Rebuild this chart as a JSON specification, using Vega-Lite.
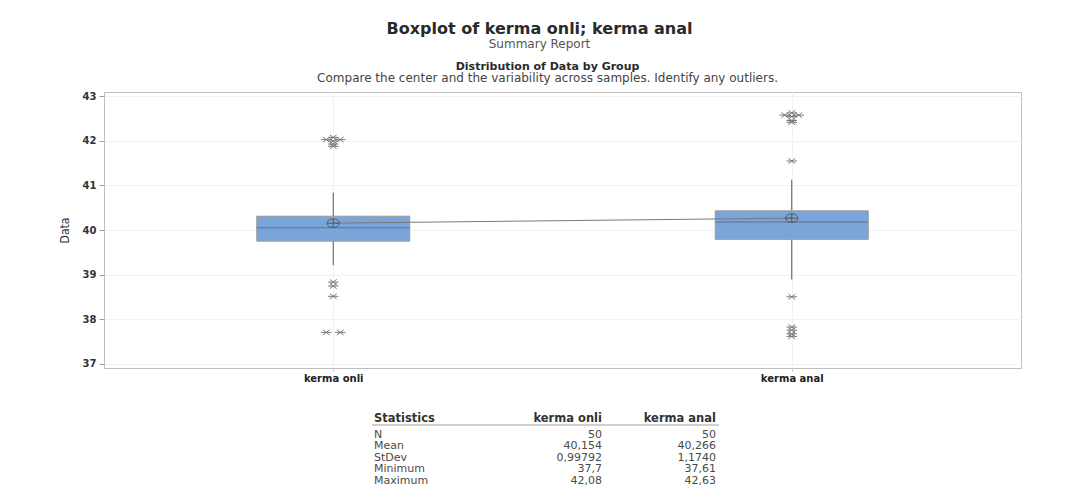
{
  "$schema": "https://vega.github.io/schema/vega-lite/v6.json",
  "background": "white",
  "padding": {"left": 57, "top": 20, "right": 40, "bottom": 10},
  "title": {
    "text": "Boxplot of kerma onli; kerma anal",
    "subtitle": "Summary Report",
    "anchor": "middle",
    "font": "DejaVu Sans",
    "fontSize": 16,
    "fontWeight": "bold",
    "color": "#2a2a2a",
    "subtitleFont": "DejaVu Sans",
    "subtitleFontSize": 12,
    "subtitleColor": "#555555",
    "subtitlePadding": 2,
    "offset": 11
  },
  "datasets": {
    "boxes": [
      {"group": "kerma onli", "lower": 39.21, "q1": 39.75, "median": 40.05, "q3": 40.31, "upper": 40.84, "mean": 40.154},
      {"group": "kerma anal", "lower": 38.89, "q1": 39.79, "median": 40.18, "q3": 40.43, "upper": 41.13, "mean": 40.266}
    ],
    "outliers": [
      {"group": "kerma onli", "value": 42.08, "dup": 0},
      {"group": "kerma onli", "value": 42.03, "dup": -1},
      {"group": "kerma onli", "value": 42.03, "dup": 1},
      {"group": "kerma onli", "value": 42.0, "dup": 0},
      {"group": "kerma onli", "value": 41.93, "dup": 0},
      {"group": "kerma onli", "value": 41.88, "dup": 0},
      {"group": "kerma onli", "value": 38.83, "dup": 0},
      {"group": "kerma onli", "value": 38.74, "dup": 0},
      {"group": "kerma onli", "value": 38.51, "dup": 0},
      {"group": "kerma onli", "value": 37.7, "dup": -1},
      {"group": "kerma onli", "value": 37.7, "dup": 1},
      {"group": "kerma anal", "value": 42.63, "dup": 0},
      {"group": "kerma anal", "value": 42.58, "dup": -1},
      {"group": "kerma anal", "value": 42.58, "dup": 1},
      {"group": "kerma anal", "value": 42.55, "dup": 0},
      {"group": "kerma anal", "value": 42.46, "dup": 0},
      {"group": "kerma anal", "value": 42.42, "dup": 0},
      {"group": "kerma anal", "value": 41.55, "dup": 0},
      {"group": "kerma anal", "value": 38.5, "dup": 0},
      {"group": "kerma anal", "value": 37.82, "dup": 0},
      {"group": "kerma anal", "value": 37.75, "dup": 0},
      {"group": "kerma anal", "value": 37.67, "dup": 0},
      {"group": "kerma anal", "value": 37.61, "dup": 0}
    ],
    "stats": [
      {"row": "Statistics", "col": "Statistics", "text": "Statistics"},
      {"row": "Statistics", "col": "kerma onli", "text": "kerma onli"},
      {"row": "Statistics", "col": "kerma anal", "text": "kerma anal"},
      {"row": "N", "col": "Statistics", "text": "N"},
      {"row": "N", "col": "kerma onli", "text": "50"},
      {"row": "N", "col": "kerma anal", "text": "50"},
      {"row": "Mean", "col": "Statistics", "text": "Mean"},
      {"row": "Mean", "col": "kerma onli", "text": "40,154"},
      {"row": "Mean", "col": "kerma anal", "text": "40,266"},
      {"row": "StDev", "col": "Statistics", "text": "StDev"},
      {"row": "StDev", "col": "kerma onli", "text": "0,99792"},
      {"row": "StDev", "col": "kerma anal", "text": "1,1740"},
      {"row": "Minimum", "col": "Statistics", "text": "Minimum"},
      {"row": "Minimum", "col": "kerma onli", "text": "37,7"},
      {"row": "Minimum", "col": "kerma anal", "text": "37,61"},
      {"row": "Maximum", "col": "Statistics", "text": "Maximum"},
      {"row": "Maximum", "col": "kerma onli", "text": "42,08"},
      {"row": "Maximum", "col": "kerma anal", "text": "42,63"}
    ]
  },
  "spacing": 26,
  "vconcat": [
    {
      "width": 917,
      "height": 276,
      "title": {
        "text": "Distribution of Data by Group",
        "subtitle": "Compare the center and the variability across samples. Identify any outliers.",
        "anchor": "middle",
        "frame": "bounds",
        "font": "DejaVu Sans",
        "fontSize": 11,
        "fontWeight": "bold",
        "color": "#2a2a2a",
        "subtitleFont": "DejaVu Sans",
        "subtitleFontSize": 12,
        "subtitleColor": "#444444",
        "subtitlePadding": 1,
        "offset": 7,
        "dx": 8
      },
      "view": {"stroke": "#bdbdbd", "strokeWidth": 1},
      "encoding": {
        "x": {
          "field": "group",
          "type": "nominal",
          "sort": ["kerma onli", "kerma anal"],
          "scale": {"type": "point", "padding": 0.5, "domain": ["kerma onli", "kerma anal"]},
          "axis": {
            "title": null,
            "labelAngle": 0,
            "labelFont": "DejaVu Sans",
            "labelFontSize": 10,
            "labelFontWeight": "bold",
            "labelColor": "#222222",
            "labelPadding": 2,
            "domain": false,
            "ticks": true,
            "tickSize": 3,
            "tickColor": "#c8c8c8",
            "grid": true,
            "gridColor": "#f1f1f1"
          }
        }
      },
      "layer": [
        {
          "data": {"name": "boxes"},
          "mark": {"type": "rule", "color": "#555555", "strokeWidth": 1},
          "encoding": {
            "y": {
              "field": "lower",
              "type": "quantitative",
              "scale": {"domain": [36.9, 43.1], "nice": false, "zero": false},
              "axis": {
                "title": "Data",
                "titleFont": "'Liberation Sans Narrow', 'DejaVu Sans Condensed', 'Roboto', sans-serif",
                "titleFontSize": 12,
                "titleFontWeight": "normal",
                "titleColor": "#333333",
                "titlePadding": 11,
                "values": [37, 38, 39, 40, 41, 42, 43],
                "labelFont": "DejaVu Sans",
                "labelFontSize": 10,
                "labelFontWeight": "bold",
                "labelColor": "#333333",
                "labelPadding": 3,
                "domain": false,
                "tickSize": 5,
                "tickColor": "#a0a0a0",
                "grid": true,
                "gridColor": "#f1f1f1"
              }
            },
            "y2": {"field": "upper"}
          }
        },
        {
          "data": {"name": "boxes"},
          "mark": {"type": "bar", "size": 153, "fill": "#7ba5d9", "stroke": "#9a9a9a", "strokeWidth": 1},
          "encoding": {
            "y": {"field": "q1", "type": "quantitative"},
            "y2": {"field": "q3"}
          }
        },
        {
          "data": {"name": "boxes"},
          "mark": {"type": "tick", "size": 153, "thickness": 1, "color": "#5d7393", "opacity": 1},
          "encoding": {
            "y": {"field": "median", "type": "quantitative"}
          }
        },
        {
          "data": {"name": "boxes"},
          "mark": {"type": "line", "color": "#7a7a7a", "strokeWidth": 1},
          "encoding": {
            "y": {"field": "mean", "type": "quantitative"}
          }
        },
        {
          "data": {"name": "boxes"},
          "mark": {
            "type": "point",
            "shape": "M-1,0A1,0.7 0 1,1 1,0A1,0.7 0 1,1 -1,0ZM-1,0L1,0M0,-0.7L0,0.7",
            "size": 150,
            "filled": false,
            "stroke": "#555555",
            "strokeWidth": 1,
            "opacity": 1
          },
          "encoding": {
            "y": {"field": "mean", "type": "quantitative"}
          }
        },
        {
          "data": {"name": "outliers"},
          "mark": {
            "type": "point",
            "shape": "M-1,0L1,0M-0.65,-0.5L0.65,0.5M-0.65,0.5L0.65,-0.5",
            "size": 110,
            "filled": false,
            "stroke": "#6e6e6e",
            "strokeWidth": 1,
            "opacity": 0.9
          },
          "encoding": {
            "y": {"field": "value", "type": "quantitative"},
            "xOffset": {
              "field": "dup",
              "type": "quantitative",
              "scale": {"domain": [-1, 1], "range": [-7, 7]}
            }
          }
        }
      ]
    },
    {
      "width": 917,
      "height": 80,
      "data": {"name": "stats"},
      "view": {"stroke": null},
      "encoding": {
        "x": {
          "field": "col",
          "type": "nominal",
          "scale": {"type": "point", "padding": 0, "domain": ["Statistics", "spacer", "kerma onli", "kerma anal"], "range": [270, 612]},
          "axis": null
        },
        "y": {
          "field": "row",
          "type": "nominal",
          "scale": {"type": "point", "padding": 0, "domain": ["Statistics", "N", "Mean", "StDev", "Minimum", "Maximum"], "range": [13, 71]},
          "axis": null
        },
        "text": {"field": "text", "type": "nominal"}
      },
      "layer": [
        {
          "mark": {"type": "rule", "color": "#d0d0d0", "strokeWidth": 2, "yOffset": 2, "x2Offset": 3, "xOffset": -2},
          "encoding": {
            "x": {"datum": "Statistics"},
            "x2": {"datum": "kerma anal"},
            "y": {"datum": "Statistics"},
            "text": null
          }
        },
        {
          "transform": [{"filter": "datum.row === 'Statistics' && datum.col === 'Statistics'"}],
          "mark": {"type": "text", "align": "left", "baseline": "middle", "yOffset": -4, "font": "DejaVu Sans", "fontSize": 11.5, "fontWeight": "bold", "color": "#333333"}
        },
        {
          "transform": [{"filter": "datum.row === 'Statistics' && datum.col !== 'Statistics'"}],
          "mark": {"type": "text", "align": "right", "baseline": "middle", "yOffset": -4, "font": "DejaVu Sans", "fontSize": 11.5, "fontWeight": "bold", "color": "#333333"}
        },
        {
          "transform": [{"filter": "datum.row !== 'Statistics' && datum.col === 'Statistics'"}],
          "mark": {"type": "text", "align": "left", "baseline": "middle", "font": "DejaVu Sans", "fontSize": 11, "color": "#4a4a4a"}
        },
        {
          "transform": [{"filter": "datum.row !== 'Statistics' && datum.col !== 'Statistics'"}],
          "mark": {"type": "text", "align": "right", "baseline": "middle", "font": "DejaVu Sans", "fontSize": 11, "color": "#4a4a4a"}
        }
      ]
    }
  ],
  "config": {
    "font": "DejaVu Sans",
    "axis": {"labelFont": "DejaVu Sans", "titleFont": "DejaVu Sans"}
  }
}
